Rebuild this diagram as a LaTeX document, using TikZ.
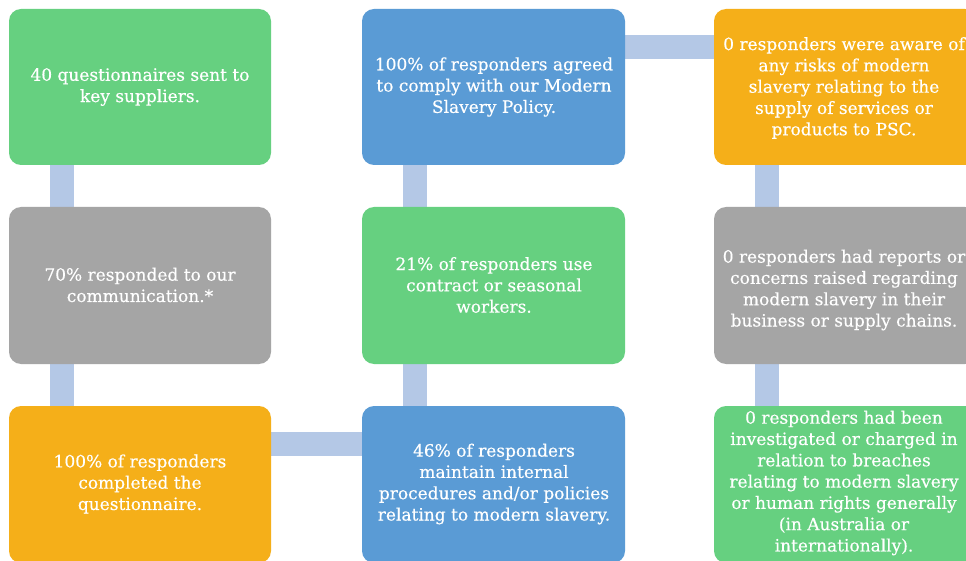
\documentclass[tikz,border=0pt]{standalone}
\usepackage{fontspec}
\setmainfont{DejaVu Serif}
\newfontfamily\cardfont{DejaVu Serif}[FakeBold=0.35]
\definecolor{cgreen}{HTML}{66D080}
\definecolor{cblue}{HTML}{5A9BD5}
\definecolor{cgrey}{HTML}{A5A5A5}
\definecolor{corange}{HTML}{F5AF19}
\definecolor{clink}{HTML}{B4C8E6}
\begin{document}
\begin{tikzpicture}[x=1pt,y=-1pt,
  card/.style={rounded corners=12pt,draw=none},
  cardtext/.style={text=white,align=center,font=\cardfont\fontsize{17}{21.3}\selectfont,inner sep=0pt},
  link/.style={fill=clink,draw=none}]
\useasboundingbox (0,0) rectangle (966,561);
\clip (0,0) rectangle (966,561);
\fill[white] (0,0) rectangle (966,561);
% links
\fill[link] (50,165) rectangle (74,207);
\fill[link] (50,364) rectangle (74,406);
\fill[link] (271,432) rectangle (362,456);
\fill[link] (403,364) rectangle (427,406);
\fill[link] (403,165) rectangle (427,207);
\fill[link] (625,35) rectangle (714,59);
\fill[link] (755,165) rectangle (779,207);
\fill[link] (755,364) rectangle (779,406);
% cards
\fill[card,cgreen] (9,9) rectangle (271,165);
\fill[card,cgrey] (9,207) rectangle (271,364);
\fill[card,corange] (9,406) rectangle (271,563);
\fill[card,cblue] (362,9) rectangle (625,165);
\fill[card,cgreen] (362,207) rectangle (625,364);
\fill[card,cblue] (362,406) rectangle (625,563);
\fill[card,corange] (714,9) rectangle (977,165);
\fill[card,cgrey] (714,207) rectangle (977,364);
\fill[card,cgreen] (714,406) rectangle (977,563);
% texts
\node[cardtext] (a1) at (140,87) {40 questionnaires sent to\\key suppliers.};
\node[cardtext] (a2) at (140,285) {70\% responded to our\\communication.*};
\node[cardtext] (a3) at (140,484) {100\% of responders\\completed the\\questionnaire.};
\node[cardtext] (b1) at (494,87) {100\% of responders agreed\\to comply with our Modern\\Slavery Policy.};
\node[cardtext] (b2) at (494,285) {21\% of responders use\\contract or seasonal\\workers.};
\node[cardtext] (b3) at (494,484) {46\% of responders\\maintain internal\\procedures and/or policies\\relating to modern slavery.};
\node[cardtext] (c1) at (844,88) {0 responders were aware of\\any risks of modern\\slavery relating to the\\supply of services or\\products to PSC.};
\node[cardtext] (c2) at (844,290) {0 responders had reports or\\concerns raised regarding\\modern slavery in their\\business or supply chains.};
\node[cardtext] (c3) at (844,483) {0 responders had been\\investigated or charged in\\relation to breaches\\relating to modern slavery\\or human rights generally\\(in Australia or\\internationally).};
\end{tikzpicture}
\end{document}
